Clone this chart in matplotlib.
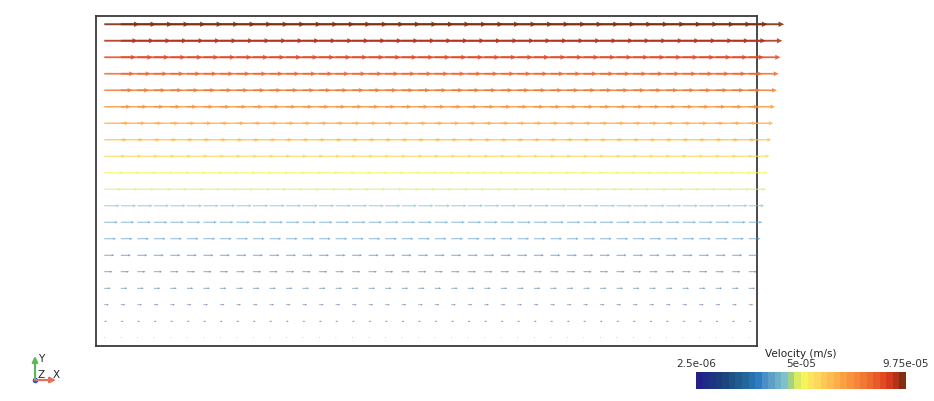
import numpy as np
import matplotlib
matplotlib.use('Agg')
import matplotlib.pyplot as plt
from matplotlib.colors import ListedColormap, Normalize
from matplotlib.cm import ScalarMappable

# cell centres of the 40 x 20 mesh (domain 2 m x 1 m)
x_cells = [0.025, 0.075, 0.125, 0.175, 0.225, 0.275, 0.325, 0.375, 0.425, 0.475,
           0.525, 0.575, 0.625, 0.675, 0.725, 0.775, 0.825, 0.875, 0.925, 0.975,
           1.025, 1.075, 1.125, 1.175, 1.225, 1.275, 1.325, 1.375, 1.425, 1.475,
           1.525, 1.575, 1.625, 1.675, 1.725, 1.775, 1.825, 1.875, 1.925, 1.975]
y_cells = [0.025, 0.075, 0.125, 0.175, 0.225, 0.275, 0.325, 0.375, 0.425, 0.475,
           0.525, 0.575, 0.625, 0.675, 0.725, 0.775, 0.825, 0.875, 0.925, 0.975]
# x velocity of each row, bottom to top (m/s)
u_rows = [2.5e-06, 7.5e-06, 1.25e-05, 1.75e-05, 2.25e-05, 2.75e-05, 3.25e-05,
          3.75e-05, 4.25e-05, 4.75e-05, 5.25e-05, 5.75e-05, 6.25e-05, 6.75e-05,
          7.25e-05, 7.75e-05, 8.25e-05, 8.75e-05, 9.25e-05, 9.75e-05]

vmin, vmax = 2.5e-06, 9.75e-05
cbar_ticks = [2.5e-06, 5e-05, 9.75e-05]
cbar_labels = ['2.5e-06', '5e-05', '9.75e-05']

cbar_colors = ['#22218a', '#1f2c85', '#1d3580', '#1b3d7c', '#1b467e', '#1d5285',
               '#1f5c8f', '#22669a', '#2671b0', '#2f7dc0', '#4a90c6', '#5ca0c8',
               '#6eb0c8', '#80c0c8', '#a5d27a', '#dcea62', '#f5f55a', '#fde460',
               '#fdd85a', '#fdc855', '#fdbc50', '#fcaf48', '#fba042', '#f8923c',
               '#f58538', '#f07832', '#ec6a2e', '#e85a28', '#e44a22', '#d43a1e',
               '#b0341a', '#7e3010']
cmap = ListedColormap(cbar_colors)
norm = Normalize(vmin=vmin, vmax=vmax)

fig = plt.figure(figsize=(9.34, 4.02), dpi=100)
ax = fig.add_axes([96/934, 1 - 347/402, 661/934, 330/402])
ax.set_xlim(0, 2)
ax.set_ylim(0, 1)
ax.set_xticks([])
ax.set_yticks([])
for s in ax.spines.values():
    s.set_color('#3a3a3a')
    s.set_linewidth(1.3)

xs = np.array(x_cells)
for yy, uu in zip(y_cells, u_rows):
    col = cmap(norm(uu))
    w = 0.45 + 1.5 * uu / vmax
    a = 0.55 + 0.35 * uu / vmax
    ax.quiver(xs, np.full(len(xs), yy), np.full(len(xs), uu), np.zeros(len(xs)),
              color=col, alpha=a, angles='xy', scale_units='xy', scale=9.1e-4,
              units='dots', width=w, headwidth=2.8, headlength=3.0,
              headaxislength=2.8, clip_on=False, zorder=3)

# colour bar
cax = fig.add_axes([696/934, 12/402, 210/934, 17/402])
cb = fig.colorbar(ScalarMappable(norm=norm, cmap=cmap), cax=cax,
                  orientation='horizontal', ticks=cbar_ticks)
cb.outline.set_visible(False)
cax.xaxis.set_ticks_position('top')
cax.set_xticklabels(cbar_labels)
cax.tick_params(length=0, pad=3, labelsize=7.5, labelcolor='#333333')
fig.text(801/934, 1 - 354/402, 'Velocity (m/s)', fontsize=7.5, color='#222222',
         ha='center', va='center')

# orientation triad
tax = fig.add_axes([0, 0, 1, 1], zorder=-1)
tax.set_xlim(0, 934)
tax.set_ylim(402, 0)
tax.axis('off')
tax.annotate('', xy=(35, 357), xytext=(35, 381),
             arrowprops=dict(arrowstyle='-|>', color='#5cb85c', lw=1.6,
                             mutation_scale=8, shrinkA=0, shrinkB=0))
tax.annotate('', xy=(56, 381), xytext=(35, 381),
             arrowprops=dict(arrowstyle='-|>', color='#e07060', lw=1.6,
                             mutation_scale=8, shrinkA=0, shrinkB=0))
tax.plot([35], [381], 'o', color='#3050e0', ms=3)
tax.text(38, 359, 'Y', fontsize=7.5, color='#222222', va='center', ha='left')
tax.text(37, 375, 'Z', fontsize=7.5, color='#222222', va='center', ha='left')
tax.text(53, 375, 'X', fontsize=7.5, color='#222222', va='center', ha='left')

fig.savefig('out.png', dpi=100)
